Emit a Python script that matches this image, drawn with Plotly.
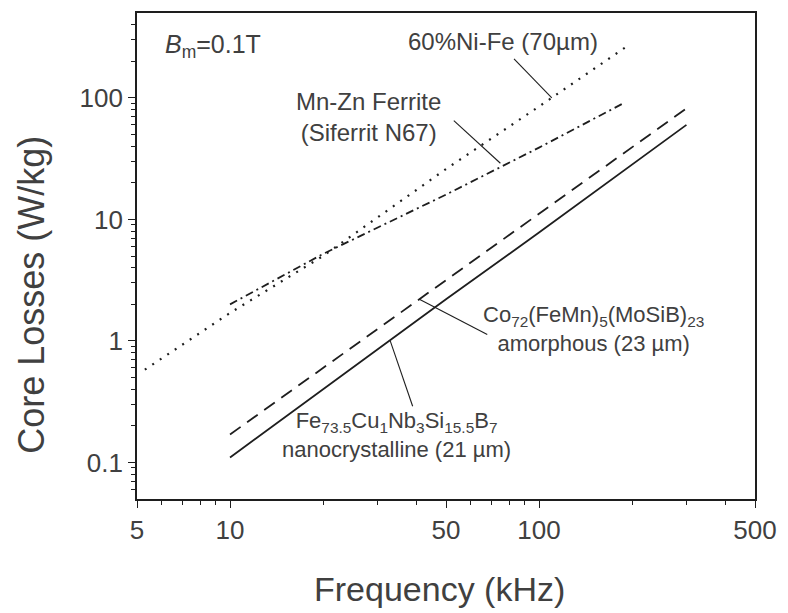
import math
import plotly.graph_objects as go

# Core losses (W/kg) against frequency (kHz) at Bm = 0.1 T
freq_nanocryst = [10, 20, 50, 100, 200, 300]
loss_nanocryst = [0.11, 0.40, 2.2, 7.8, 28, 60]

freq_amorph = [10, 20, 50, 100, 200, 300]
loss_amorph = [0.17, 0.60, 3.2, 11.2, 39.5, 82]

freq_nife = [5.3, 10, 20, 50, 100, 190]
loss_nife = [0.58, 1.7, 5.0, 26, 85, 260]

freq_ferrite = [10, 20, 50, 100, 190]
loss_ferrite = [2.0, 5.2, 16, 39, 92]

x_tick_vals = [5, 10, 50, 100, 500]
x_tick_text = ["5", "10", "50", "100", "500"]
x_minor_vals = [6, 7, 8, 9, 20, 30, 40, 60, 70, 80, 90, 200, 300, 400]

y_tick_vals = [0.1, 1, 10, 100]
y_tick_text = ["0.1", "1", "10", "100"]
y_minor_vals = ([0.06, 0.07, 0.08, 0.09]
                + [k / 10 for k in range(2, 10)]
                + list(range(2, 10))
                + [k * 10 for k in range(2, 10)]
                + [200, 300, 400])

INK = "#1e1e1e"
TXT = "#404040"
FONT = "Liberation Sans, Arial, sans-serif"

fig = go.Figure()

curve_style = dict(mode="lines", hoverinfo="skip", showlegend=False)
fig.add_trace(go.Scatter(x=freq_nanocryst, y=loss_nanocryst,
                         line=dict(color=INK, width=1.8), **curve_style))
fig.add_trace(go.Scatter(x=freq_amorph, y=loss_amorph,
                         line=dict(color=INK, width=1.8, dash="13px,8px"), **curve_style))
fig.add_trace(go.Scatter(x=freq_nife, y=loss_nife,
                         line=dict(color=INK, width=2.2, dash="2px,7px"), **curve_style))
fig.add_trace(go.Scatter(x=freq_ferrite, y=loss_ferrite,
                         line=dict(color=INK, width=1.8, dash="8px,4px,2px,4px"), **curve_style))

# leader lines from labels to curves: (f0, v0) -> (f1, v1)
leaders = [
    ((83, 210), (110, 100)),     # 60%Ni-Fe
    ((53, 65), (75, 29)),        # Mn-Zn ferrite
    ((68, 1.13), (41, 2.2)),     # Co-based amorphous
    ((39, 0.29), (33, 1.0)),     # Fe-based nanocrystalline
]
for (f0, v0), (f1, v1) in leaders:
    fig.add_trace(go.Scatter(x=[f0, f1], y=[v0, v1],
                             line=dict(color=INK, width=1.1), **curve_style))

lg = math.log10


def label(text, f, v, size=24, xanchor="center", align="center"):
    fig.add_annotation(x=lg(f), y=lg(v), xref="x", yref="y", text=text,
                       showarrow=False, xanchor=xanchor, yanchor="middle",
                       align=align, font=dict(family=FONT, size=size, color=TXT))


label("<i>B</i><sub>m</sub>=0.1T", 6.06, 270, size=25, xanchor="left")
label("60%Ni-Fe (70µm)", 76.5, 289)
label("Mn-Zn Ferrite<br>(Siferrit N67)", 28, 70)
label("Co<sub>72</sub>(FeMn)<sub>5</sub>(MoSiB)<sub>23</sub><br>amorphous (23 µm)", 150, 1.25,
      size=22)
label("Fe<sub>73.5</sub>Cu<sub>1</sub>Nb<sub>3</sub>Si<sub>15.5</sub>B<sub>7</sub><br>nanocrystalline (21 µm)",
      34.6, 0.169, size=22)

# axis titles
fig.add_annotation(x=-0.17, y=0.42, xref="paper", yref="paper", text="Core Losses (W/kg)",
                   textangle=-90, showarrow=False, xanchor="center", yanchor="middle",
                   font=dict(family=FONT, size=36, color=TXT))
fig.add_annotation(x=0.49, y=-0.186, xref="paper", yref="paper", text="Frequency (kHz)",
                   showarrow=False, xanchor="center", yanchor="middle",
                   font=dict(family=FONT, size=34, color=TXT))

axis_common = dict(
    showline=True, linecolor=INK, linewidth=1.6, mirror=True,
    showgrid=False, zeroline=False, ticks="outside", ticklen=7, tickwidth=1.4,
    tickcolor=INK, tickfont=dict(family=FONT, size=26, color=TXT),
)
fig.update_xaxes(type="log", range=[lg(5), lg(500)], tickmode="array",
                 tickvals=x_tick_vals, ticktext=x_tick_text,
                 minor=dict(tickmode="array", tickvals=x_minor_vals, ticks="outside",
                            ticklen=4, tickwidth=1.2, tickcolor=INK),
                 **axis_common)
fig.update_yaxes(type="log", range=[lg(0.05), lg(500)], tickmode="array",
                 tickvals=y_tick_vals, ticktext=y_tick_text,
                 minor=dict(tickmode="array", tickvals=y_minor_vals, ticks="outside",
                            ticklen=4, tickwidth=1.2, tickcolor=INK),
                 **axis_common)

fig.update_layout(
    width=788, height=613,
    margin=dict(l=137, r=28, t=11, b=114),
    paper_bgcolor="white", plot_bgcolor="white",
    hovermode=False,
)

fig.write_html("out.html", include_plotlyjs=True, config={"displayModeBar": False})
